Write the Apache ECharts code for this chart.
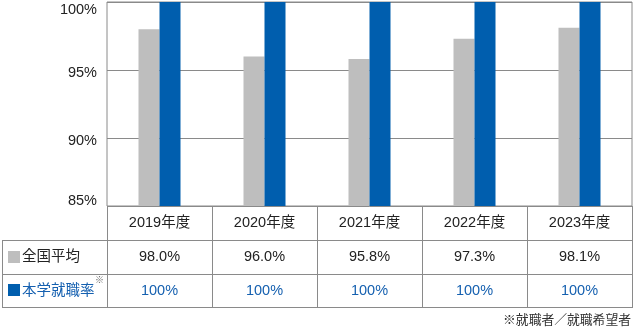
<!DOCTYPE html>
<html><head><meta charset="utf-8">
<script src="https://cdn.jsdelivr.net/npm/echarts@6/dist/echarts.min.js"></script>
<style>html,body{margin:0;padding:0;background:#fff}#c{width:635px;height:330px}</style>
</head><body><div id="c"></div>
<script>
const categories = ['2019年度','2020年度','2021年度','2022年度','2023年度'];
const seriesNames = ['全国平均','本学就職率'];
const nationalAvg = [98.0, 96.0, 95.8, 97.3, 98.1];
const univRate = [100, 100, 100, 100, 100];
const nationalLabels = ['98.0%','96.0%','95.8%','97.3%','98.1%'];
const univLabels = ['100%','100%','100%','100%','100%'];
const footnote = '※就職者／就職希望者';

const FONT = '"Liberation Sans","Noto Sans CJK JP",sans-serif';
const FS = 14.5;
const GRAY = '#bebebe', BLUE = '#005eae', BLUE_TXT = '#1560b0', LINE = '#8a8a8a', TXT = '#222';

const chart = echarts.init(document.getElementById('c'), null, {renderer:'canvas'});
const L = 107, R = 632, T = 2, B = 206, ROW = 34, LX = 2;
const lineStyle = {stroke: LINE, lineWidth: 1};
const graphics = [];
function hline(y, x1, x2){ graphics.push({type:'line', shape:{x1:x1, y1:y+0.5, x2:x2, y2:y+0.5}, style:lineStyle, silent:true}); }
function vline(x, y1, y2){ graphics.push({type:'line', shape:{x1:x+0.5, y1:y1, x2:x+0.5, y2:y2}, style:lineStyle, silent:true}); }
hline(240, LX, R+1); hline(274, LX, R+1); hline(307, LX, R+1);
vline(LX, 240, 308);
const colW = (R - L) / categories.length;
for (let i = 0; i <= categories.length; i++) vline(Math.round(L + i*colW), B, 308);
// row labels
graphics.push({type:'rect', shape:{x:8, y:251, width:12, height:12}, style:{fill:GRAY}, silent:true});
graphics.push({type:'text', x:22, y:257, style:{text:seriesNames[0], font:FS+'px '+FONT, fill:TXT, verticalAlign:'middle'}, silent:true});
graphics.push({type:'rect', shape:{x:8, y:284, width:12, height:12}, style:{fill:BLUE}, silent:true});
graphics.push({type:'text', x:22, y:291, style:{text:seriesNames[1], font:FS+'px '+FONT, fill:BLUE_TXT, verticalAlign:'middle'}, silent:true});
graphics.push({type:'text', x:95, y:281, style:{text:'※', font:'9px '+FONT, fill:'#666', verticalAlign:'middle'}, silent:true});
graphics.push({type:'text', x:631, y:320, style:{text:footnote, font:'12.8px '+FONT, fill:'#333', align:'right', verticalAlign:'middle'}, silent:true});

chart.setOption({
  animation: false,
  textStyle: {fontFamily: FONT},
  grid: {left: L, right: 635 - R, top: T, bottom: 330 - B, show: true, borderColor: LINE, borderWidth: 1, containLabel: false},
  xAxis: [
    {type:'category', data: categories, axisLine:{show:false}, axisTick:{show:false},
     axisLabel:{margin:10, fontSize:FS, color:TXT, fontFamily:FONT}},
    {type:'category', data: nationalLabels, position:'bottom', offset: ROW, axisLine:{show:false}, axisTick:{show:false},
     axisLabel:{margin:10, fontSize:FS, color:TXT, fontFamily:FONT}},
    {type:'category', data: univLabels, position:'bottom', offset: ROW*2, axisLine:{show:false}, axisTick:{show:false},
     axisLabel:{margin:10, fontSize:FS, color:BLUE_TXT, fontFamily:FONT}}
  ],
  yAxis: {type:'value', min:85, max:100, interval:5, axisLine:{show:false}, axisTick:{show:false},
    splitLine:{lineStyle:{color:LINE, width:1}},
    axisLabel:{margin:10, color:TXT, fontFamily:FONT, fontSize:FS,
      formatter: v => v === 100 ? '{t|' + v + '%}' : (v === 85 ? '{b|' + v + '%}' : '{n|' + v + '%}'),
      rich:{t:{padding:[16,0,0,0], fontSize:FS, color:TXT}, b:{padding:[0,0,10,0], fontSize:FS, color:TXT}, n:{padding:[6,0,0,0], fontSize:FS, color:TXT}}}},
  series: [
    {name: seriesNames[0], type:'bar', data: nationalAvg, barWidth:21, barGap:'0%', itemStyle:{color:GRAY}, xAxisIndex:0},
    {name: seriesNames[1], type:'bar', data: univRate, barWidth:21, barGap:'0%', itemStyle:{color:BLUE}, xAxisIndex:0}
  ],
  graphic: graphics
});
</script></body></html>
